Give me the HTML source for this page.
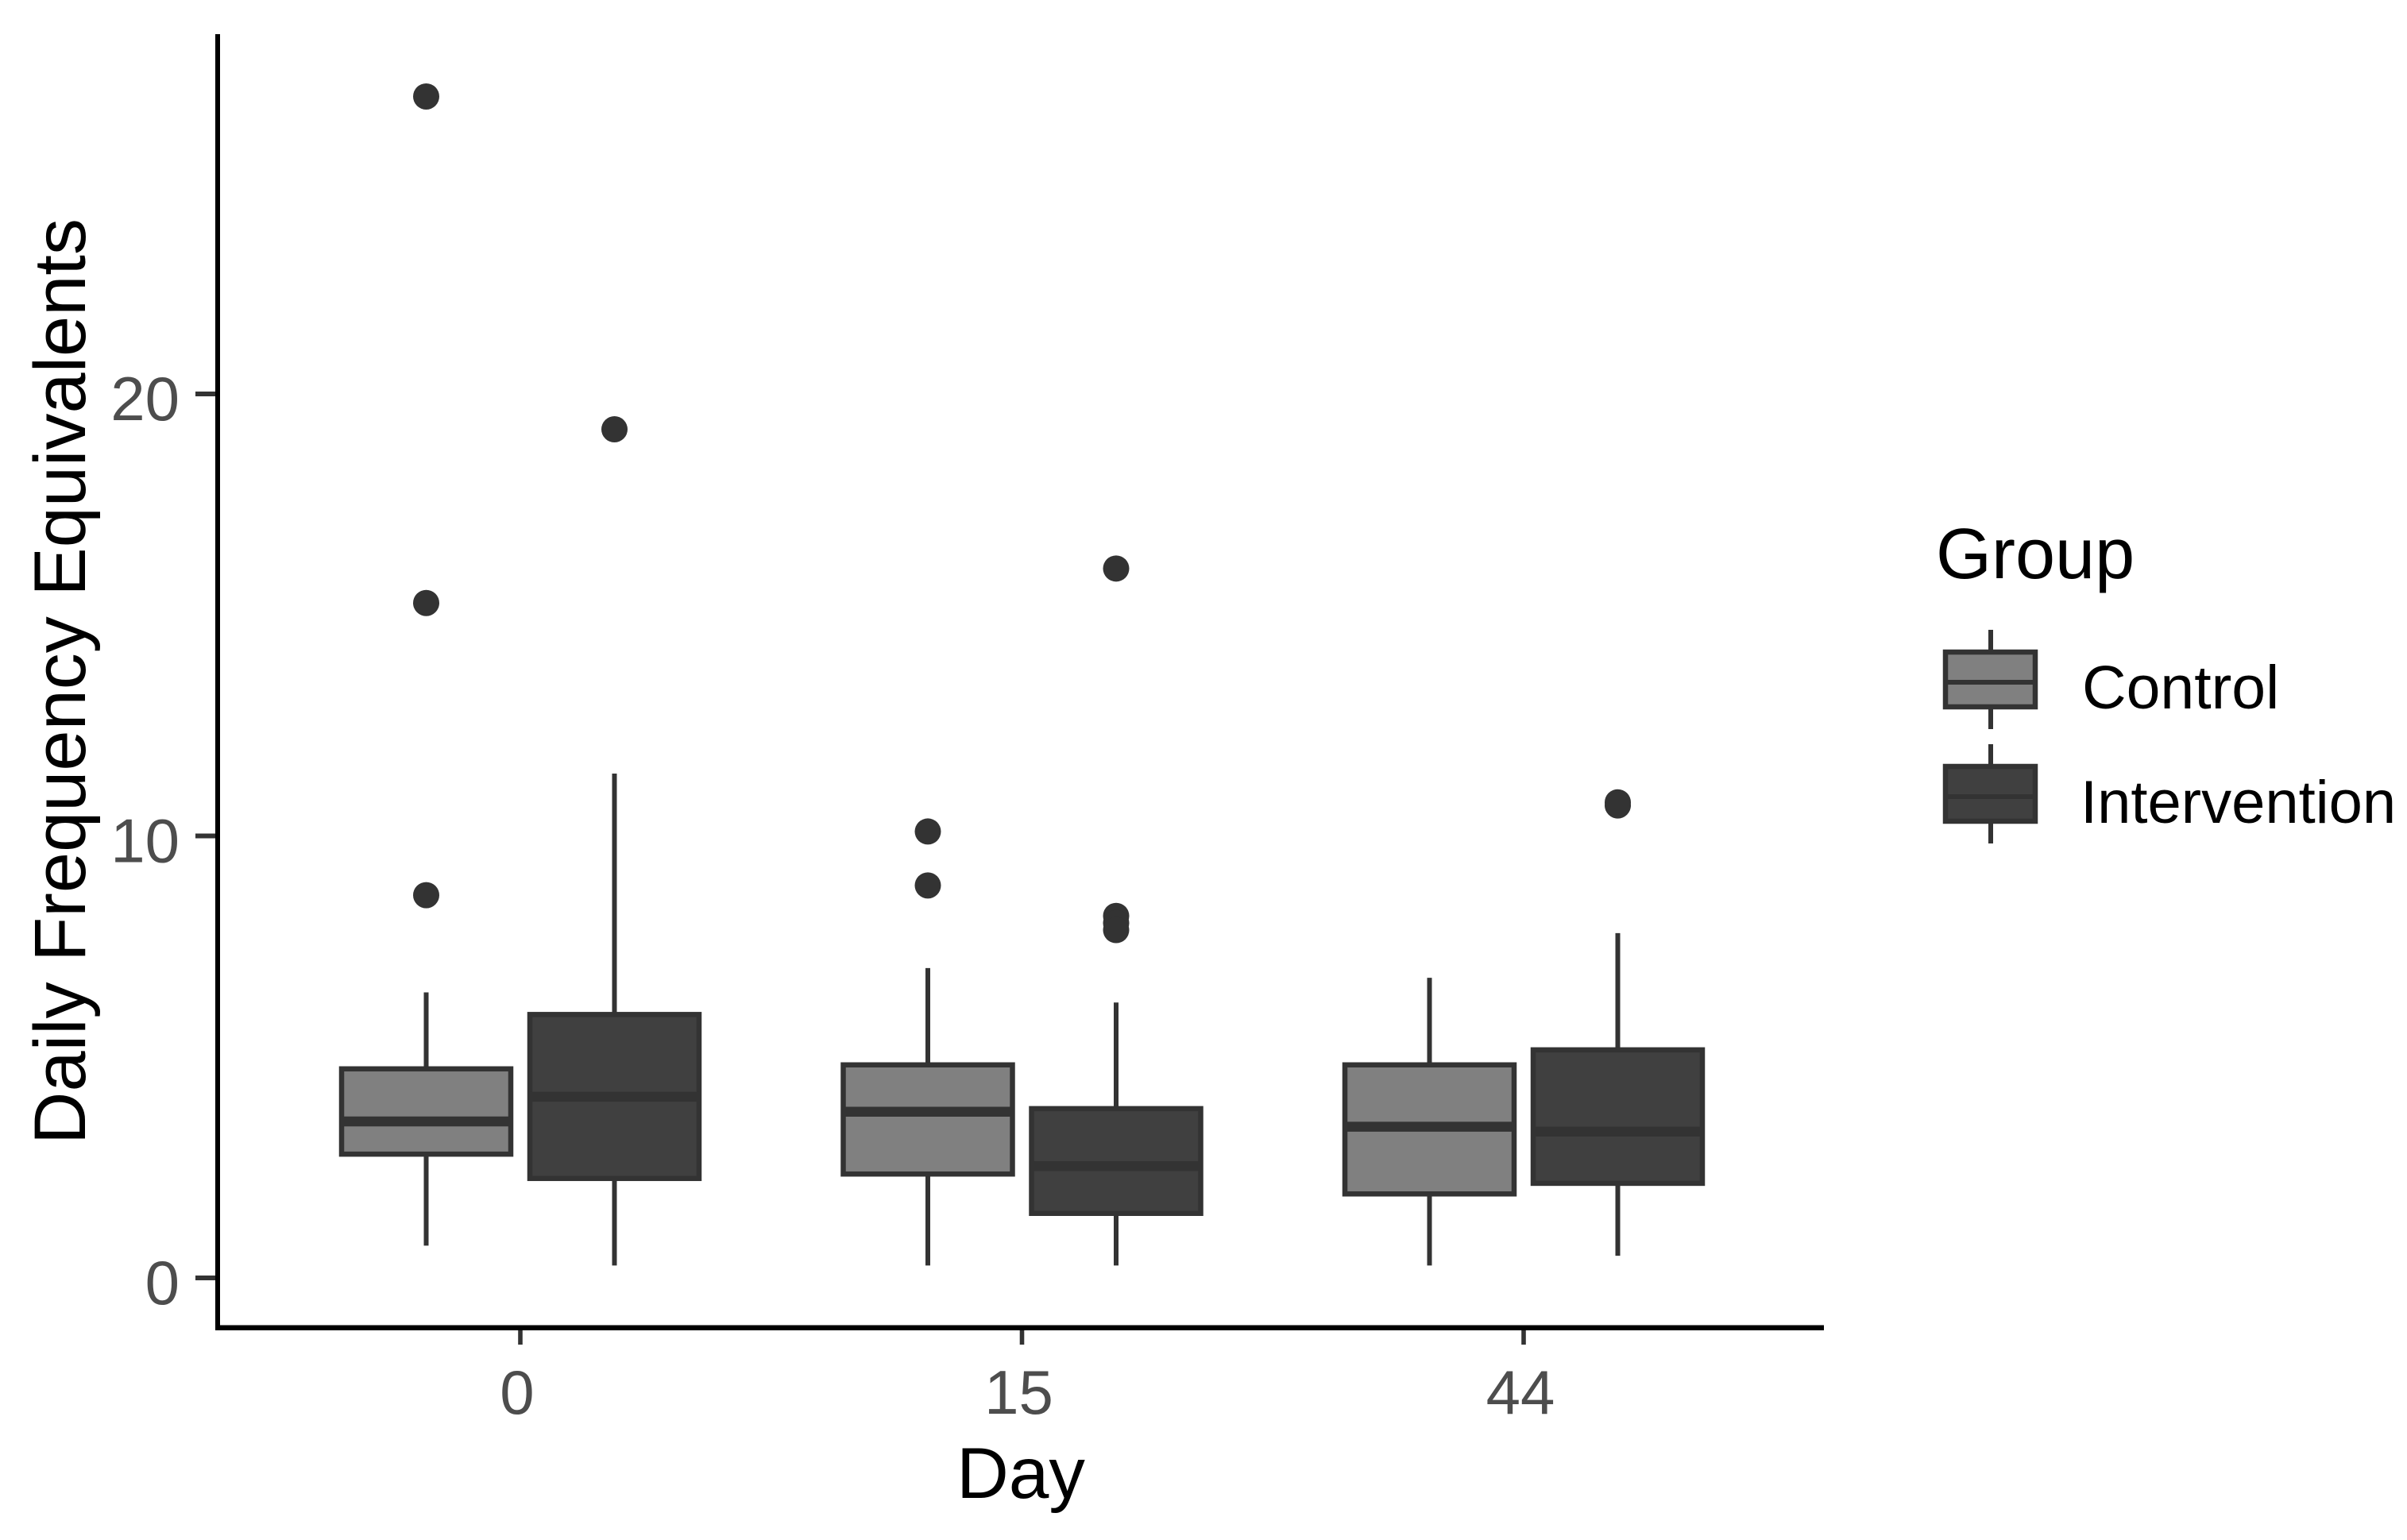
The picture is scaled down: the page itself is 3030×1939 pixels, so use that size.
<!DOCTYPE html>
<html lang="en">
<head>
<meta charset="utf-8">
<title>Daily Frequency Equivalents by Day and Group</title>
<style>
html,body{margin:0;padding:0;background:#fff;}
svg{display:block;font-family:"Liberation Sans",Arial,sans-serif;}
</style>
</head>
<body>
<svg id="chart" xmlns="http://www.w3.org/2000/svg" width="3030" height="1939" viewBox="0 0 3030 1939">
  <rect x="0" y="0" width="3030" height="1939" fill="#ffffff"/>
  <g id="marks"></g>
  <g id="ticks"></g>
  <rect x="271" y="43" width="6" height="1632" fill="#000000"/>
  <rect x="271" y="1668.5" width="2025" height="6.5" fill="#000000"/>
  <text x="1285" y="1886" font-size="91" text-anchor="middle" fill="#000000">Day</text>
  <text transform="translate(107,858) rotate(-90)" font-size="92" text-anchor="middle" fill="#000000">Daily Frequency Equivalents</text>
  <g>
    <text x="2437" y="728" font-size="90" fill="#000000">Group</text>
    <g>
      <line x1="2506" x2="2506" y1="793" y2="918" stroke="#333333" stroke-width="6"/>
      <rect x="2449" y="821" width="113" height="69" fill="#808080" stroke="#333333" stroke-width="6.5"/>
      <line x1="2449" x2="2562" y1="859" y2="859" stroke="#333333" stroke-width="6"/>
      <text x="2621" y="892" font-size="77" fill="#000000">Control</text>
    </g>
    <g>
      <line x1="2506" x2="2506" y1="937" y2="1062" stroke="#333333" stroke-width="6"/>
      <rect x="2449" y="965" width="113" height="69" fill="#404040" stroke="#333333" stroke-width="6.5"/>
      <line x1="2449" x2="2562" y1="1003" y2="1003" stroke="#333333" stroke-width="6"/>
      <text x="2619" y="1036" font-size="76" fill="#000000">Intervention</text>
    </g>
  </g>
</svg>
<script>
const days = ['0', '15', '44'];
const yTicks = [0, 10, 20];

const controlLow = [0.73, 0.28, 0.28];
const controlQ1 = [2.80, 2.35, 1.90];
const controlMedian = [3.54, 3.76, 3.42];
const controlQ3 = [4.73, 4.82, 4.82];
const controlHigh = [6.46, 7.01, 6.79];
const controlOutliers = [[26.73, 15.27, 8.66], [10.1, 8.88], []];

const interventionLow = [0.28, 0.28, 0.50];
const interventionQ1 = [2.25, 1.46, 2.14];
const interventionMedian = [4.10, 2.53, 3.31];
const interventionQ3 = [5.96, 3.83, 5.16];
const interventionHigh = [11.41, 6.23, 7.80];
const interventionOutliers = [[19.2], [16.05, 8.19, 8.03, 7.87], [10.76, 10.69]];

const SVG_NS = 'http://www.w3.org/2000/svg';
const marksLayer = document.getElementById('marks');
const ticksLayer = document.getElementById('ticks');
const INK = '#333333';

function xScale(i) { return 655 + 631.5 * i; }
function yScale(v) { return 1609 - 55.65 * v; }

function svgEl(tag, attrs, parent) {
  const el = document.createElementNS(SVG_NS, tag);
  for (const k in attrs) el.setAttribute(k, attrs[k]);
  parent.appendChild(el);
  return el;
}

function drawBox(cx, low, q1, med, q3, high, outliers, fill, key) {
  const halfWidth = 106.5;
  const group = svgEl('g', {}, marksLayer);
  
  

  const whisker = svgEl('line', { x1: cx, x2: cx, y1: yScale(high), y2: yScale(low), stroke: INK, 'stroke-width': 6 }, group);
  
  

  const box = svgEl('rect', { x: cx - halfWidth, y: yScale(q3), width: halfWidth * 2, height: yScale(q1) - yScale(q3), fill: fill, stroke: INK, 'stroke-width': 6.5 }, group);
  
  

  const median = svgEl('line', { x1: cx - halfWidth, x2: cx + halfWidth, y1: yScale(med), y2: yScale(med), stroke: INK, 'stroke-width': 12.5 }, group);
  
  

  outliers.forEach(function (v) {
    const dot = svgEl('circle', { cx: cx, cy: yScale(v), r: 16.5, fill: INK }, group);
    
    
  });
}

days.forEach(function (day, i) {
  const cx = xScale(i);
  drawBox(cx - 118.5, controlLow[i], controlQ1[i], controlMedian[i], controlQ3[i], controlHigh[i], controlOutliers[i], '#808080', 'control-day-' + day);
  drawBox(cx + 118.5, interventionLow[i], interventionQ1[i], interventionMedian[i], interventionQ3[i], interventionHigh[i], interventionOutliers[i], '#404040', 'intervention-day-' + day);

  const tick = svgEl('line', { x1: cx, x2: cx, y1: 1670, y2: 1693, stroke: INK, 'stroke-width': 5.6 }, ticksLayer);
  
  

  const label = svgEl('text', { x: cx - 4, y: 1780, 'font-size': 78, 'text-anchor': 'middle', fill: '#4d4d4d' }, ticksLayer);
  label.textContent = day;
  
  
});

yTicks.forEach(function (v) {
  const y = yScale(v);
  const tick = svgEl('line', { x1: 246, x2: 273, y1: y, y2: y, stroke: INK, 'stroke-width': 6 }, ticksLayer);
  
  

  const label = svgEl('text', { x: 226, y: y + 33, 'font-size': 78, 'text-anchor': 'end', fill: '#4d4d4d' }, ticksLayer);
  label.textContent = String(v);
  
  
});
</script>
</body>
</html>
